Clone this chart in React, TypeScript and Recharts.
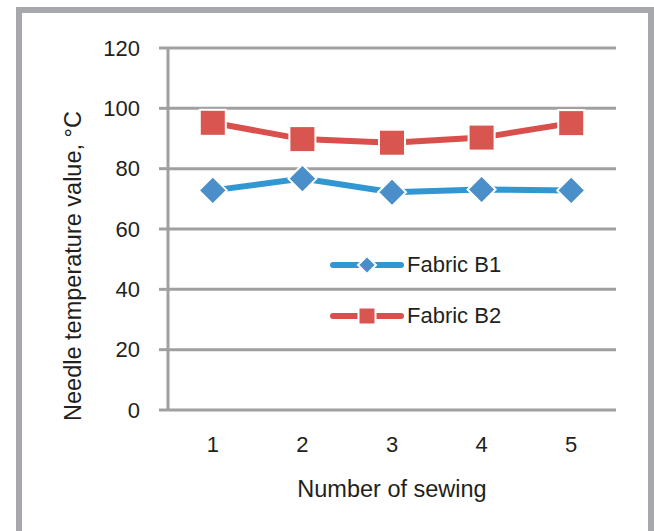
import { LineChart, Line, XAxis, YAxis, CartesianGrid, Legend } from "recharts";

const sewings = ["1", "2", "3", "4", "5"];
const fabricB1 = [72.8, 76.7, 72.2, 73.1, 72.8];
const fabricB2 = [95.2, 89.8, 88.6, 90.3, 95.1];
const yTicks = [0, 20, 40, 60, 80, 100, 120];

const data = sewings.map((n, i) => ({ n, b1: fabricB1[i], b2: fabricB2[i] }));

const GRID = "#a0a0a1";
const TEXT = "#231f20";
const FONT = "'Liberation Sans', Arial, sans-serif";
const BLUE_LINE = "#3197d3";
const BLUE_DOT = "#4a8fca";
const RED_LINE = "#d94f4c";
const RED_DOT = "#d95550";

// markers get a white edge, like the source chart
const Diamond = (p: any) => {
  const { cx, cy, half = 14, color = BLUE_DOT } = p;
  if (cx == null || cy == null) return null;
  return (
    <polygon
      points={`${cx},${cy - half} ${cx + half},${cy} ${cx},${cy + half} ${cx - half},${cy}`}
      fill={color}
      stroke="#fff"
      strokeWidth={2}
    />
  );
};

const Square = (p: any) => {
  const { cx, cy, half = 13, color = RED_DOT } = p;
  if (cx == null || cy == null) return null;
  return (
    <rect x={cx - half} y={cy - half} width={half * 2} height={half * 2} fill={color} stroke="#fff" strokeWidth={2} />
  );
};

const legendRows = [
  { name: "Fabric B1", line: BLUE_LINE, marker: "diamond" },
  { name: "Fabric B2", line: RED_LINE, marker: "square" },
];

const LegendBox = () => (
  <div>
    {legendRows.map((s) => (
      <div key={s.name} style={{ display: "flex", alignItems: "center", height: 51 }}>
        <svg width={74} height={22}>
          <line x1={3} y1={11} x2={71} y2={11} stroke={s.line} strokeWidth={6} strokeLinecap="round" />
          {s.marker === "diamond" ? (
            <Diamond cx={37} cy={11} half={9} />
          ) : (
            <Square cx={37} cy={11} half={8.5} />
          )}
        </svg>
        <span style={{ marginLeft: 3, fontSize: 22, color: TEXT, fontFamily: FONT }}>{s.name}</span>
      </div>
    ))}
  </div>
);

export default function App() {
  return (
    <div style={{ position: "absolute", left: 0, top: 0, width: 654, height: 531, overflow: "hidden", background: "#fff" }}>
      <div
        style={{
          position: "absolute",
          left: 16,
          top: 7,
          width: 638,
          height: 530,
          boxSizing: "border-box",
          border: "6px solid #a7a8ab",
          borderBottom: "none",
        }}
      />
      <LineChart
        width={654}
        height={531}
        data={data}
        margin={{ top: 48, right: 38, left: 0, bottom: 61 }}
        style={{ position: "absolute", left: 0, top: 0, fontFamily: FONT }}
      >
        <CartesianGrid vertical={false} stroke={GRID} strokeWidth={3} />
        <XAxis
          dataKey="n"
          scale="band"
          height={60}
          axisLine={false}
          tickLine={false}
          tickSize={0}
          tickMargin={26}
          tick={{ fill: TEXT, fontSize: 22 }}
          label={{ value: "Number of sewing", position: "bottom", offset: 10, fill: TEXT, fontSize: 23.5 }}
        />
        <YAxis
          domain={[0, 120]}
          ticks={yTicks}
          width={168}
          axisLine={{ stroke: GRID, strokeWidth: 3 }}
          tickLine={{ stroke: GRID, strokeWidth: 3 }}
          tickSize={9}
          tickMargin={19}
          tick={{ fill: TEXT, fontSize: 22 }}
          label={{
            value: "Needle temperature value, °C",
            angle: -90,
            position: "insideLeft",
            offset: 73,
            dy: 37,
            fill: TEXT,
            fontSize: 23.5,
            style: { textAnchor: "middle" },
          }}
        />
        <Legend
          layout="vertical"
          align="center"
          verticalAlign="middle"
          content={<LegendBox />}
          wrapperStyle={{ left: 330, top: 239, width: "auto" }}
        />
        <Line
          dataKey="b1"
          name="Fabric B1"
          stroke={BLUE_LINE}
          strokeWidth={6}
          dot={<Diamond />}
          activeDot={false}
          isAnimationActive={false}
        />
        <Line
          dataKey="b2"
          name="Fabric B2"
          stroke={RED_LINE}
          strokeWidth={6}
          dot={<Square />}
          activeDot={false}
          isAnimationActive={false}
        />
      </LineChart>
    </div>
  );
}
